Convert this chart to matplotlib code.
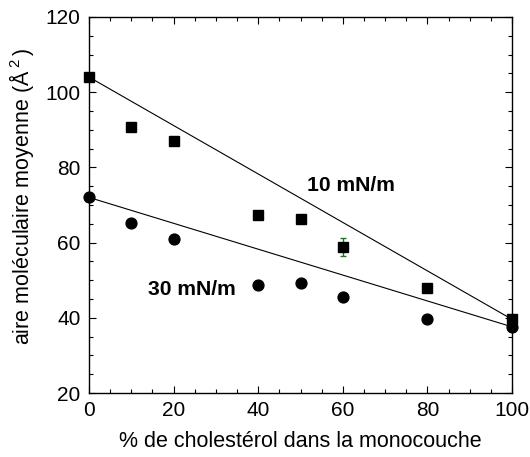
import numpy as np
import matplotlib
matplotlib.use('Agg')
import matplotlib.pyplot as plt
from matplotlib.ticker import MultipleLocator

# cholesterol fraction in the monolayer (%)
chol = [0, 10, 20, 40, 50, 60, 80, 100]
# mean molecular area (A^2) at 10 mN/m and 30 mN/m
area_10 = [104.0, 90.8, 87.1, 67.3, 66.2, 58.7, 47.8, 39.6]
area_30 = [72.0, 65.3, 60.9, 48.7, 49.2, 45.5, 39.6, 37.6]
err_x = [60]
err_y = [58.7]
err_val = [2.4]

plt.rcParams['font.family'] = ['Liberation Sans', 'DejaVu Sans']
plt.rcParams['mathtext.fontset'] = 'custom'
plt.rcParams['mathtext.rm'] = 'Liberation Sans'

fig = plt.figure(figsize=(5.30, 4.57), dpi=100)
ax = fig.add_axes([0.168, 0.140, 0.798, 0.823])

# ideal mixing lines between the pure components
ax.plot([chol[0], chol[-1]], [area_10[0], area_10[-1]], color='black', lw=0.8)
ax.plot([chol[0], chol[-1]], [area_30[0], area_30[-1]], color='black', lw=0.8)

ax.errorbar(err_x, err_y, yerr=err_val, fmt='none', ecolor='#1a7a1a',
            elinewidth=1.0, capsize=2.5, zorder=3)
ax.plot(chol, area_10, 's', color='black', ms=7.5, clip_on=False, zorder=4)
ax.plot(chol, area_30, 'o', color='black', ms=7.8, clip_on=False, zorder=4)

ax.text(51.5, 75.3, '10 mN/m', fontsize=15.2, fontweight='bold', va='center', ha='left')
ax.text(14, 47.4, '30 mN/m', fontsize=15.2, fontweight='bold', va='center', ha='left')

ax.set_xlim(0, 100)
ax.set_ylim(20, 120)
ax.xaxis.set_major_locator(MultipleLocator(20))
ax.xaxis.set_minor_locator(MultipleLocator(5))
ax.yaxis.set_major_locator(MultipleLocator(20))
ax.yaxis.set_minor_locator(MultipleLocator(5))
ax.tick_params(which='both', direction='in', top=True, right=True, labelsize=15, width=0.8)
ax.tick_params(which='major', length=5, pad=6)
ax.tick_params(which='minor', length=3)
for s in ax.spines.values():
    s.set_linewidth(1.0)

ax.set_xlabel('% de cholestérol dans la monocouche', fontsize=15.5, labelpad=8)
ax.set_ylabel(r'aire moléculaire moyenne (Å$\,^{\mathrm{2}}\,$)', fontsize=15.5)
ax.yaxis.set_label_coords(-0.126, 0.524)

fig.savefig('out.png', dpi=100)
